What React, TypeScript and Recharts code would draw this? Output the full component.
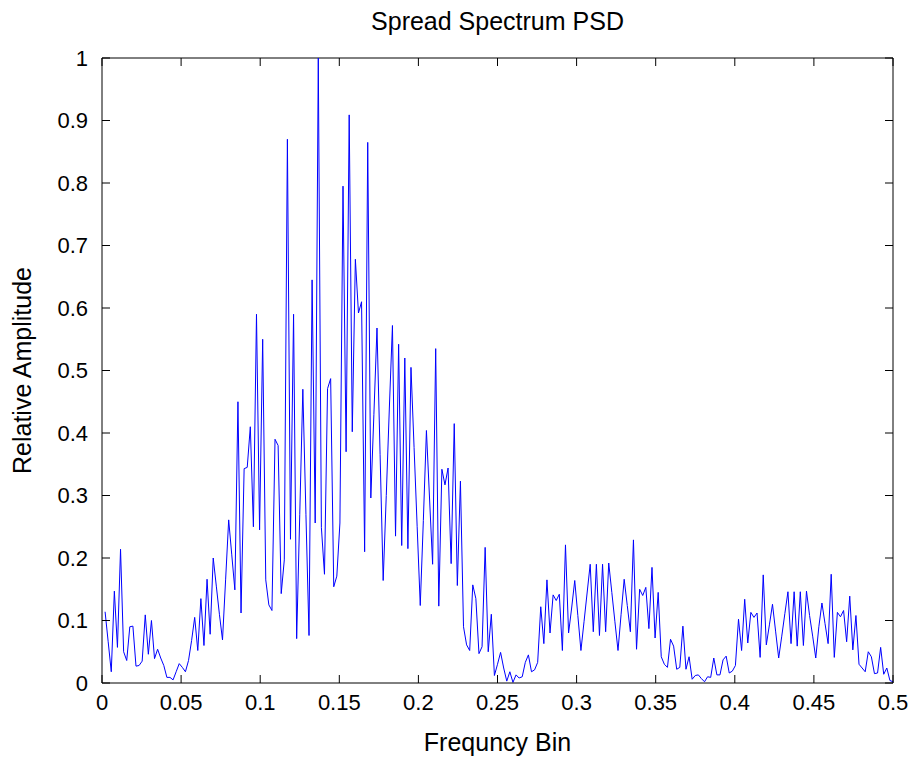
import { LineChart, Line, XAxis, YAxis, ReferenceLine } from 'recharts'

// FFT length: bin k sits at k / fftSize cycles per sample
const fftSize = 512

// relative PSD amplitude, bins 1..64
const ampBins1 = [
  0.114, 0.066, 0.018, 0.147, 0.057, 0.214, 0.05, 0.036, 0.09, 0.091, 0.027, 0.028, 0.035, 0.109, 0.046, 0.1,
  0.039, 0.054, 0.04, 0.028, 0.009, 0.009, 0.005, 0.018, 0.031, 0.025, 0.018, 0.036, 0.068, 0.105, 0.052, 0.135,
  0.06, 0.166, 0.078, 0.2, 0.155, 0.11, 0.069, 0.165, 0.261, 0.205, 0.149, 0.45, 0.112, 0.343, 0.345, 0.41,
  0.25, 0.59, 0.245, 0.55, 0.165, 0.125, 0.116, 0.39, 0.38, 0.143, 0.197, 0.87, 0.23, 0.59, 0.071, 0.27,
]
// bins 65..128
const ampBins2 = [
  0.47, 0.27, 0.076, 0.645, 0.256, 1.0, 0.249, 0.174, 0.471, 0.487, 0.154, 0.171, 0.256, 0.795, 0.37, 0.909,
  0.402, 0.678, 0.592, 0.61, 0.21, 0.865, 0.296, 0.43, 0.568, 0.366, 0.164, 0.3, 0.44, 0.572, 0.235, 0.542,
  0.22, 0.52, 0.215, 0.505, 0.377, 0.25, 0.124, 0.26, 0.404, 0.296, 0.19, 0.535, 0.123, 0.342, 0.317, 0.344,
  0.191, 0.415, 0.156, 0.323, 0.09, 0.061, 0.052, 0.157, 0.135, 0.047, 0.058, 0.217, 0.05, 0.11, 0.012, 0.03,
]
// bins 129..192
const ampBins3 = [
  0.049, 0.024, 0.003, 0.018, 0.001, 0.013, 0.008, 0.01, 0.033, 0.045, 0.018, 0.021, 0.033, 0.122, 0.063, 0.165,
  0.08, 0.141, 0.132, 0.142, 0.052, 0.221, 0.08, 0.12, 0.164, 0.108, 0.052, 0.098, 0.144, 0.19, 0.082, 0.19,
  0.076, 0.19, 0.082, 0.192, 0.145, 0.098, 0.052, 0.11, 0.166, 0.124, 0.082, 0.229, 0.054, 0.15, 0.14, 0.153,
  0.087, 0.185, 0.072, 0.145, 0.042, 0.03, 0.025, 0.07, 0.059, 0.022, 0.025, 0.091, 0.022, 0.042, 0.006, 0.012,
]
// bins 193..256
const ampBins4 = [
  0.013, 0.007, 0.002, 0.01, 0.009, 0.04, 0.013, 0.013, 0.037, 0.043, 0.016, 0.019, 0.028, 0.102, 0.052, 0.134,
  0.064, 0.113, 0.105, 0.112, 0.041, 0.173, 0.061, 0.093, 0.126, 0.083, 0.04, 0.075, 0.111, 0.146, 0.063, 0.146,
  0.059, 0.146, 0.06, 0.147, 0.108, 0.075, 0.04, 0.09, 0.128, 0.095, 0.063, 0.174, 0.041, 0.113, 0.106, 0.116,
  0.066, 0.139, 0.053, 0.108, 0.03, 0.024, 0.018, 0.05, 0.042, 0.015, 0.016, 0.057, 0.014, 0.024, 0.004, 0.002,
]

const freqTicks = [0, 0.05, 0.1, 0.15, 0.2, 0.25, 0.3, 0.35, 0.4, 0.45, 0.5]
const ampTicks = [0, 0.1, 0.2, 0.3, 0.4, 0.5, 0.6, 0.7, 0.8, 0.9, 1]

const amplitude = [...ampBins1, ...ampBins2, ...ampBins3, ...ampBins4]
const data = amplitude.map((amp, i) => ({ freq: (i + 1) / fftSize, amp }))

// whole window, chart is pinned to the page corner (no body margin / scrollbar)
const W = 913
const H = 758
const M = { top: 58, right: 20, bottom: 0, left: 0 }
const X_AXIS_H = 75
const Y_AXIS_W = 102
// plot box edges
const TOP = M.top
const BOTTOM = H - M.bottom - X_AXIS_H
const LEFT = M.left + Y_AXIS_W
const RIGHT = W - M.right
const TICK = 8

const font = '"Liberation Sans", Arial, Helvetica, sans-serif'
const tickFont = 22
const labelFont = 25

// MATLAB style: ticks point inward, mirrored on the opposite edge
function FreqTick(props: any) {
  const { x, y, payload } = props
  return (
    <g>
      <line x1={x} x2={x} y1={BOTTOM} y2={BOTTOM - TICK} stroke="#000" />
      <line x1={x} x2={x} y1={TOP} y2={TOP + TICK} stroke="#000" />
      <text x={x} y={y} dy="0.72em" textAnchor="middle" fill="#000" fontSize={tickFont} fontFamily={font}>
        {payload.value}
      </text>
    </g>
  )
}

function AmpTick(props: any) {
  const { x, y, payload } = props
  return (
    <g>
      <line x1={LEFT} x2={LEFT + TICK} y1={y} y2={y} stroke="#000" />
      <line x1={RIGHT} x2={RIGHT - TICK} y1={y} y2={y} stroke="#000" />
      <text x={x} y={y} dy="0.36em" textAnchor="end" fill="#000" fontSize={tickFont} fontFamily={font}>
        {payload.value}
      </text>
    </g>
  )
}

export default function App() {
  return (
    <div style={{ position: 'absolute', left: 0, top: 0, width: W, height: H, background: '#fff' }}>
      <LineChart width={W} height={H} data={data} margin={M}>
        <XAxis
          dataKey="freq"
          type="number"
          domain={[0, 0.5]}
          ticks={freqTicks}
          interval={0}
          height={X_AXIS_H}
          tickLine={false}
          tickSize={0}
          tickMargin={11}
          stroke="#000"
          tick={<FreqTick />}
        />
        <YAxis
          type="number"
          domain={[0, 1]}
          ticks={ampTicks}
          interval={0}
          width={Y_AXIS_W}
          tickLine={false}
          tickSize={0}
          tickMargin={14}
          stroke="#000"
          tick={<AmpTick />}
        />
        <ReferenceLine y={1} stroke="#000" strokeWidth={1} />
        <ReferenceLine x={0.5} stroke="#000" strokeWidth={1} />
        <Line
          type="linear"
          dataKey="amp"
          stroke="#0000ff"
          strokeWidth={1}
          dot={false}
          isAnimationActive={false}
        />
      </LineChart>
      <svg
        width={W}
        height={H}
        style={{ position: 'absolute', left: 0, top: 0, pointerEvents: 'none' }}
        fontFamily={font}
        fontSize={labelFont}
        fill="#000"
      >
        <text x={(LEFT + RIGHT) / 2} y={30} textAnchor="middle">Spread Spectrum PSD</text>
        <text x={(LEFT + RIGHT) / 2} y={751} textAnchor="middle">Frequncy Bin</text>
        <text transform={`translate(31, ${(TOP + BOTTOM) / 2}) rotate(-90)`} textAnchor="middle">
          Relative Amplitude
        </text>
      </svg>
    </div>
  )
}
